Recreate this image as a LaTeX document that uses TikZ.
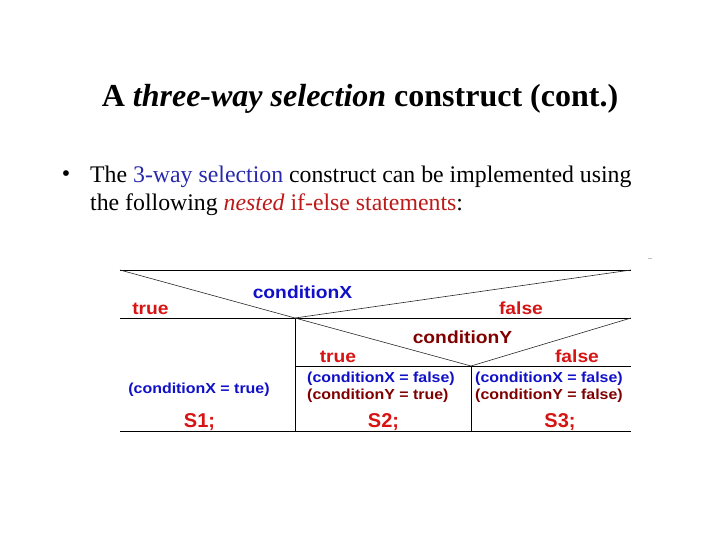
\documentclass[tikz,border=0pt]{standalone}
\usepackage{fontspec}
\setmainfont{Liberation Serif}
\newfontfamily\nsdfont[FakeStretch=1.1]{Liberation Sans}
\newfontfamily\stmtfont{Liberation Sans}
\usetikzlibrary{positioning, calc}
\definecolor{CondBlue}{RGB}{16, 16, 200}
\definecolor{CondMaroon}{RGB}{128, 0, 0}
\definecolor{BranchRed}{RGB}{215, 20, 20}
\definecolor{TextBlue}{RGB}{40, 40, 170}
\definecolor{TextRed}{RGB}{190, 25, 25}

\begin{document}
\begin{tikzpicture}[x=1pt, y=-1pt,
    branch/.style={inner sep=0pt, anchor=base, color=BranchRed, font=\fontsize{17.5}{17.5}\selectfont\nsdfont\bfseries},
    cond/.style={inner sep=0pt, anchor=base, font=\fontsize{17.5}{17.5}\selectfont\nsdfont\bfseries},
    state/.style={inner sep=0pt, anchor=base west, font=\fontsize{14.5}{14.5}\selectfont\nsdfont\bfseries},
    stmt/.style={inner sep=0pt, anchor=base, color=BranchRed, font=\fontsize{20}{20}\selectfont\stmtfont\bfseries},
    rule/.style={line width=0.8pt, color=black},
    split/.style={line width=0.6pt, color=black!85}]
    \useasboundingbox (0,0) rectangle (720,540);

    % heading and bullet
    \node[inner sep=0pt, anchor=base, font=\fontsize{32}{32}\selectfont\bfseries] (title) at (360,107)
        {A \textit{three-way selection} construct (cont.)};
    \node[inner sep=0pt, font=\fontsize{24}{24}\selectfont] (bullet) at (66,176) {•};
    \node[inner sep=0pt, anchor=base west, font=\fontsize{23.8}{23.8}\selectfont] (line1) at (90,183)
        {The \textcolor{TextBlue}{3-way selection} construct can be implemented using};
    \node[inner sep=0pt, anchor=base west, font=\fontsize{23.8}{23.8}\selectfont] (line2) at (90,211)
        {the following \textcolor{TextRed}{\textit{nested} if-else statements}:};
    \draw[line width=0.6pt, color=gray!50] (648,258) -- (652,258);

    % corners of the chart
    \coordinate (tl) at (120,270);  \coordinate (tr) at (631,270);
    \coordinate (ml) at (120,318);  \coordinate (mr) at (631,318);
    \coordinate (xm) at (295,318);
    \coordinate (yl) at (295,366);  \coordinate (yr) at (631,366);
    \coordinate (ym) at (471,366);
    \coordinate (bl) at (120,431);  \coordinate (br) at (631,431);
    \coordinate (bx) at (295,431);  \coordinate (by) at (471,431);

    \draw[rule] (tl) -- (tr);
    \draw[rule] (ml) -- (mr);
    \draw[rule] (yl) -- (yr);
    \draw[rule] (bl) -- (br);
    \draw[rule] (xm) -- (bx);
    \draw[rule] (ym) -- (by);
    \draw[split] (tl) -- (xm) -- (tr);
    \draw[split] (xm) -- (ym) -- (mr);

    % outer test
    \node[cond, color=CondBlue] (condX) at (302.5,298) {conditionX};
    \node[branch] (trueX) at (150.5,314) {true};
    \node[branch] (falseX) at (521,314) {false};

    % inner test
    \node[cond, color=CondMaroon] (condY) at (462.5,343) {conditionY};
    \node[branch] (trueY) at (338,362) {true};
    \node[branch] (falseY) at (577,362) {false};

    % states and statements
    \node[state, anchor=base, color=CondBlue] (st1) at (199,393) {(conditionX = true)};
    \node[state, color=CondBlue] (st2a) at (307,382) {(conditionX = false)};
    \node[state, color=CondMaroon] (st2b) at (307,399) {(conditionY = true)};
    \node[state, color=CondBlue] (st3a) at (475,382) {(conditionX = false)};
    \node[state, color=CondMaroon] (st3b) at (475,399) {(conditionY = false)};

    \node[stmt] (s1) at (199.5,427) {S1;};
    \node[stmt] (s2) at (383.5,427) {S2;};
    \node[stmt] (s3) at (560,427) {S3;};
\end{tikzpicture}
\end{document}
